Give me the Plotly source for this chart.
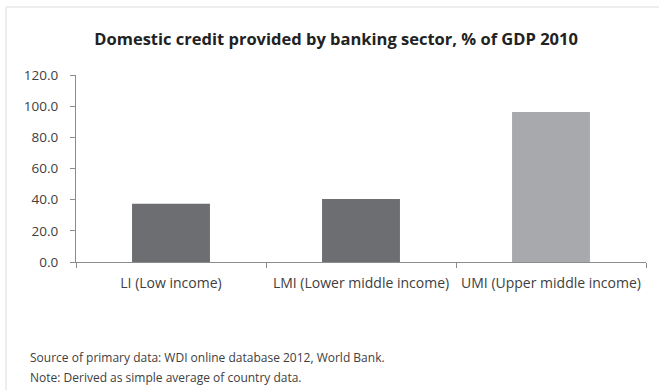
import plotly.graph_objects as go

categories = ["LI (Low income)", "LMI (Lower middle income)", "UMI (Upper middle income)"]
values = [37.3, 40.4, 96.3]
colors = ["#6d6e71", "#6d6e71", "#a7a9ac"]
y_ticks = [0, 20, 40, 60, 80, 100, 120]
y_labels = ["0.0", "20.0", "40.0", "60.0", "80.0", "100.0", "120.0"]
source_note = "Source of primary data: WDI online database 2012, World Bank."
method_note = "Note: Derived as simple average of country data."

fig = go.Figure(go.Bar(x=categories, y=values, marker=dict(color=colors, line=dict(width=0)), width=0.41))

fig.update_layout(
    width=659, height=390,
    margin=dict(l=76, r=13, t=75, b=128),
    paper_bgcolor="white", plot_bgcolor="white",
    showlegend=False,
    font=dict(family="Open Sans, Lato, sans-serif", color="#404040"),
    title=dict(text="<b>Domestic credit provided by banking sector, % of GDP 2010</b>",
               x=0.51, xanchor="center", y=0.9, yanchor="middle",
               font=dict(size=16.5, color="#222222")),
)
fig.update_yaxes(range=[0, 120], tickvals=y_ticks, ticktext=y_labels,
                 showgrid=False, showline=True, linecolor="#8c8c8c", linewidth=1,
                 ticks="outside", ticklen=5, tickcolor="#8c8c8c", ticklabelstandoff=9,
                 tickfont=dict(size=13.5, color="#404040"), zeroline=False)
fig.update_xaxes(showgrid=False, showline=True, linecolor="#8c8c8c", linewidth=1,
                 ticks="outside", ticklen=5, tickcolor="#8c8c8c", tickson="boundaries",
                 ticklabelstandoff=8,
                 tickfont=dict(size=14, color="#404040"))

# light frame lines (top and left)
fig.add_shape(type="line", xref="paper", yref="paper", x0=-0.1228, x1=1.03, y0=1.3636, y1=1.3636,
              line=dict(color="#e8e8e8", width=1.5))
fig.add_shape(type="line", xref="paper", yref="paper", x0=-0.1228, x1=-0.1228, y0=-0.7, y1=1.3636,
              line=dict(color="#e8e8e8", width=1.5))

fig.add_annotation(text=source_note, xref="paper", yref="paper", x=-0.0842, y=-0.513,
                   xanchor="left", yanchor="middle", showarrow=False,
                   font=dict(size=12, color="#404040"))
fig.add_annotation(text=method_note, xref="paper", yref="paper", x=-0.0842, y=-0.615,
                   xanchor="left", yanchor="middle", showarrow=False,
                   font=dict(size=12, color="#404040"))

fig.write_html("out.html", config={"displayModeBar": False},
               post_script="document.body.style.margin='0';")
